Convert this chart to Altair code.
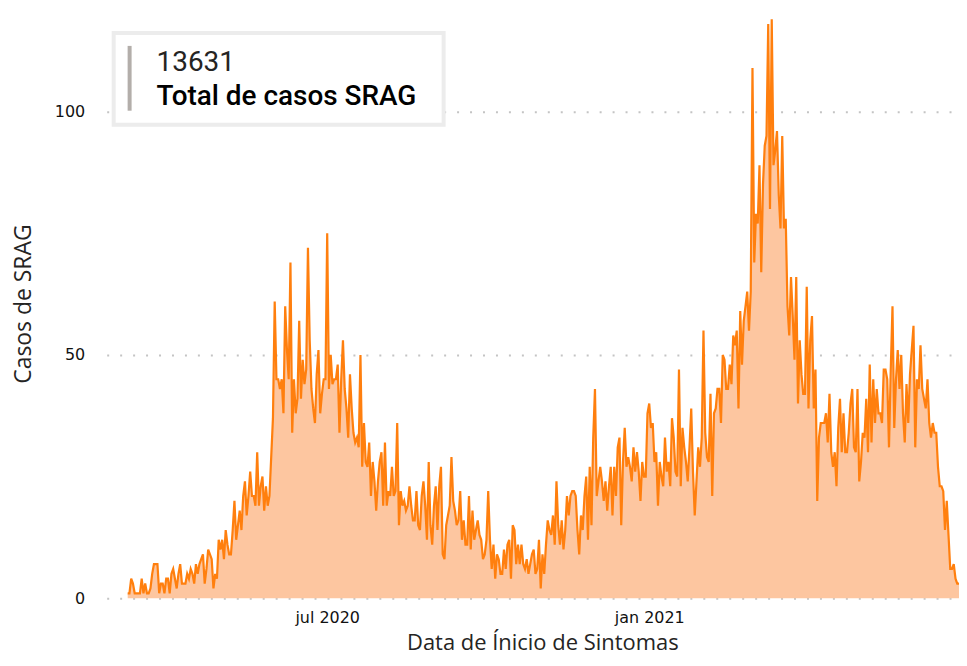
import altair as alt
import pandas as pd

# ---------------- data (daily SRAG cases) ----------------
start_date = "2020-03-09"

cases_seg1 = [1, 1, 4, 3, 1, 1, 1, 1, 4, 1,
              3, 1, 1, 2, 5, 7, 7, 7, 1, 3,
              3, 1, 4, 4, 1, 5, 6, 4, 2, 5,
              7, 3, 3, 3, 5, 4, 6, 5, 3, 7,
              5, 7, 8]
cases_seg2 = [9, 3, 6, 10, 9, 8, 2, 5, 4, 12,
              10, 12, 8, 14, 11, 9, 9, 14, 20, 12,
              15, 18, 14, 21, 24, 17, 21, 26, 21, 21,
              19, 30, 19, 23, 25, 18, 23, 19, 21, 29,
              37, 61, 45, 45, 43, 45, 38, 60, 51, 45]
cases_seg3 = [69, 34, 45, 38, 41, 57, 41, 49, 44, 47,
              72, 53, 43, 39, 36, 46, 51, 38, 42, 45,
              45, 75, 43, 50, 44, 45, 45, 48, 34, 45,
              53, 43, 39, 33, 46, 39, 34, 32, 33, 31,
              50, 27]
cases_seg4 = [36, 28, 27, 32, 21, 28, 24, 18, 24, 28,
              30, 19, 32, 19, 22, 21, 27, 21, 22, 36,
              15, 22, 19, 20, 18, 19, 23, 19, 16, 16,
              22, 15, 14, 21, 24, 19, 12, 28, 15, 11,
              19, 23, 14, 23, 27, 9, 8]
cases_seg5 = [15, 17, 19, 29, 20, 18, 15, 16, 22, 12,
              16, 11, 11, 21, 10, 18, 12, 14, 16, 13,
              12, 8, 9, 12, 22, 12, 6, 11, 4, 9,
              8, 5, 5, 10, 6, 11, 12, 4, 15, 14,
              7, 11, 7, 11]
cases_seg6 = [7, 6, 8, 5, 7, 9, 10, 5, 6, 12,
              2, 9, 5, 11, 16, 14, 13, 17, 11, 24,
              15, 11, 16, 10, 14, 21, 17, 21, 22, 22,
              21, 14, 9, 17, 14, 21, 25, 12, 27, 15,
              33, 43, 21, 24, 27, 24, 20, 24, 18]
cases_seg7 = [23, 27, 17, 27, 21, 31, 33, 15, 28, 35,
              27, 29, 27, 24, 31, 26, 30, 26, 20, 28,
              25, 25, 38, 40, 35, 36, 28, 30, 19, 28,
              25, 23, 33, 26, 28, 23, 37, 33, 26, 25,
              47, 23]
cases_seg8 = [35, 31, 28, 24, 31, 39, 26, 17, 24, 31,
              27, 33, 55, 34, 29, 28, 42, 21, 38, 39,
              43, 43, 36, 50, 49, 43, 43, 48, 44, 54,
              52, 55, 39, 59, 48, 57, 60, 63, 55, 63]
cases_seg9 = [109, 69, 79, 77, 89, 67, 85, 93, 95, 118,
              80, 119, 89, 92, 96, 83, 76, 95, 76, 78,
              60, 54, 66, 58, 49, 66, 40, 53, 46, 42,
              42, 64, 39, 53, 58, 39, 47, 20, 33, 36,
              36, 36, 38, 32, 42, 30, 27, 30, 23, 35,
              41, 30, 38, 30, 30]
cases_seg10 = [34, 40, 43, 31, 30, 43, 24, 28, 34, 33,
               41, 30, 48, 32, 45, 36, 43, 38, 38, 36,
               47, 47, 45, 31, 47, 60, 35, 45, 51, 43,
               50, 38, 32, 44, 36, 46, 51, 56, 31, 45,
               43, 52, 43, 41, 39, 45]
cases_seg11 = [36, 33, 36, 34, 34, 27, 23, 23, 22, 14,
               20, 13, 6, 6, 7, 4, 3, 3]

cases = (cases_seg1 + cases_seg2 + cases_seg3 + cases_seg4 + cases_seg5 + cases_seg6
         + cases_seg7 + cases_seg8 + cases_seg9 + cases_seg10 + cases_seg11)
dates = pd.date_range(start_date, periods=len(cases), freq="D").strftime("%Y-%m-%d")
df = pd.DataFrame({"data": list(dates), "casos": cases})

tick_labels = ["jul 2020", "jan 2021"]
y_ticks = [0, 50, 100]
total_label = "13631"
card_label = "Total de casos SRAG"

LINE = "#ff7f0e"
AREA = "#fdc6a0"
TXT = "#111111"

x_enc = alt.X(
    "data:T",
    scale=alt.Scale(type="utc",
                    domain=[alt.DateTime(year=2020, month=2, date=26, utc=True),
                            alt.DateTime(year=2021, month=6, date=27, utc=True)]),
    axis=alt.Axis(
        values=[alt.DateTime(year=2020, month=7, date=1, utc=True),
                alt.DateTime(year=2021, month=1, date=1, utc=True)],
        labelExpr=f"utcyear(datum.value) == 2020 ? '{tick_labels[0]}' : '{tick_labels[1]}'",
        title="Data de Ínicio de Sintomas",
        domain=False, ticks=False, grid=False,
        labelFont="DejaVu Sans", labelFontSize=16, labelFontWeight="normal",
        labelColor=TXT, labelPadding=11,
        titleFont="Open Sans", titleFontSize=22, titleFontWeight="normal",
        titleColor="#252423", titleX=437, titleY=52, titleBaseline="alphabetic",
        titleAlign="center",
    ),
)
y_enc = alt.Y(
    "casos:Q",
    scale=alt.Scale(domain=[0, 121.1], nice=False),
    axis=alt.Axis(
        values=y_ticks, title="Casos de SRAG",
        domain=False, ticks=False, grid=True,
        gridDash=[2, 11], gridColor="#c4c4c4", gridWidth=2,
        labelFont="DejaVu Sans", labelFontSize=16, labelFontWeight="normal",
        labelColor=TXT, labelPadding=22,
        titleFont="Open Sans", titleFontSize=23, titleFontWeight="normal",
        titleColor="#252423", titlePadding=19,
    ),
)

base = alt.Chart(df).encode(x=x_enc, y=y_enc)
area = base.mark_area(color=AREA, opacity=1)
line = base.mark_line(color=LINE, strokeWidth=2.2)

one = pd.DataFrame({"k": [0]})
card = alt.Chart(one).mark_rect(fill="white", stroke="#ececec", strokeWidth=4).encode(
    x=alt.value(7), x2=alt.value(338), y=alt.value(24), y2=alt.value(116))
bar = alt.Chart(one).mark_rule(color="#b3aeaa", strokeWidth=4).encode(
    x=alt.value(23), y=alt.value(37), y2=alt.value(102))
t1 = alt.Chart(one).mark_text(align="left", baseline="middle", font="Roboto",
                              fontSize=28, fontWeight=400, color="#252423").encode(
    x=alt.value(50), y=alt.value(54), text=alt.value(total_label))
t2 = alt.Chart(one).mark_text(align="left", baseline="middle", font="Roboto",
                              fontSize=28, fontWeight=500, color="black").encode(
    x=alt.value(50), y=alt.value(88), text=alt.value(card_label))

chart = alt.layer(area, line, card, bar, t1, t2).properties(
    width=855, height=591,
    autosize=alt.AutoSizeParams(type="none"),
    padding={"left": 99, "top": 0, "right": 0, "bottom": 58},
).configure_view(stroke=None)

chart.save("out.html", embed_options={"renderer": "svg", "actions": False})
